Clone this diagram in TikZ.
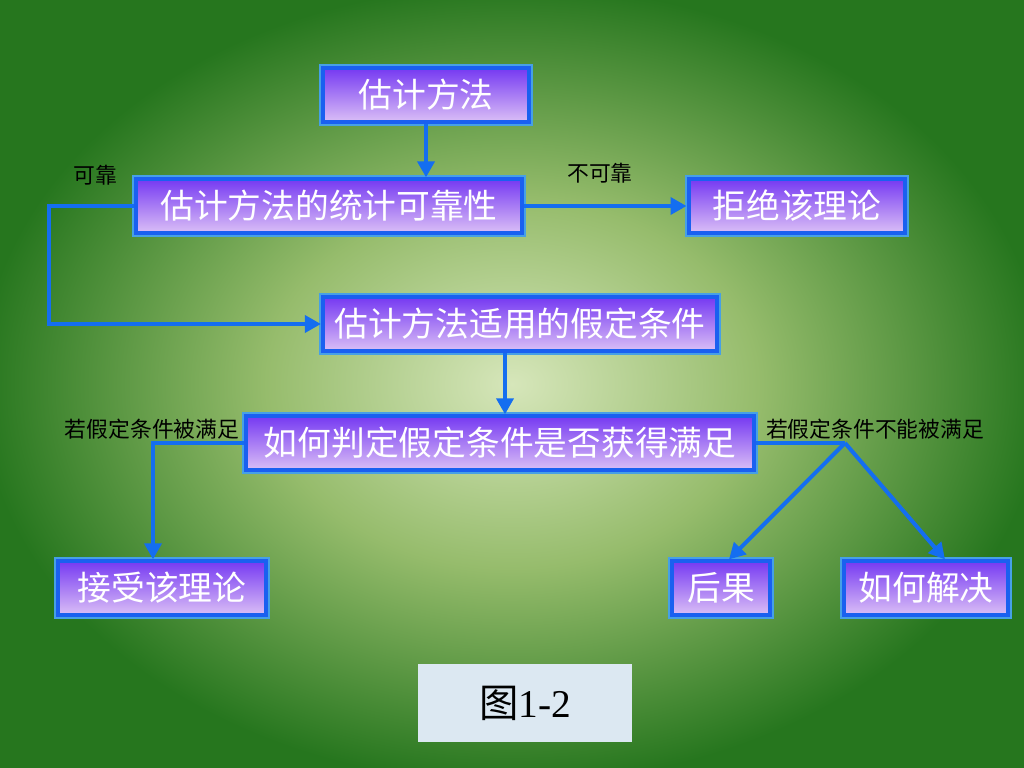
\documentclass[tikz,border=0pt]{standalone}
\usepackage{fontspec}
\setmainfont{Liberation Serif}
\newfontfamily\cjk{Noto Sans CJK SC}
\usetikzlibrary{arrows.meta}

\definecolor{glowc}{RGB}{214,230,186}
\definecolor{glowm}{RGB}{150,188,108}
\definecolor{glowe}{RGB}{38,118,30}
\definecolor{boxtop}{RGB}{118,58,242}
\definecolor{boxbot}{RGB}{218,190,246}
\definecolor{boxrim}{RGB}{26,96,240}
\definecolor{boxhalo}{RGB}{70,160,230}
\definecolor{flowblue}{RGB}{20,110,240}
\definecolor{capfill}{RGB}{220,232,242}

\pgfdeclareradialshading{bgglow}{\pgfpoint{0bp}{0bp}}{color(0bp)=(glowc); color(12bp)=(glowm); color(26bp)=(glowe); color(50bp)=(glowe)}

\newcommand{\boxfont}{\cjk\fontsize{24pt}{28pt}\selectfont}
\newcommand{\notefont}{\cjk\fontsize{15.5pt}{18pt}\selectfont}

\tikzset{
	flowbox/.style = {preaction={draw=boxhalo, line width=0.2cm}, draw=boxrim, line width=0.1cm,
		top color=boxtop, bottom color=boxbot, text=white, font=\boxfont,
		minimum height=1.33cm, inner sep=0pt},
	flowarrow/.style = {draw=flowblue, line width=0.1cm, -{Triangle[length=0.4cm,width=0.42cm]}},
	note/.style = {font=\notefont, text=black, inner sep=0pt}
}

\begin{document}
\begin{tikzpicture}[x=0.025cm, y=-0.025cm]
	\useasboundingbox (0,0) rectangle (1024,768);
	\shade[shading=bgglow] (0,0) rectangle (1024,768);

	\node [flowbox, minimum width=5.15cm] (method) at (426,95) {估计方法};
	\node [flowbox, minimum width=9.65cm] (reliab) at (329,206) {估计方法的统计可靠性};
	\node [flowbox, minimum width=5.42cm] (reject) at (797,206) {拒绝该理论};
	\node [flowbox, minimum width=9.85cm] (assume) at (520,324) {估计方法适用的假定条件};
	\node [flowbox, minimum width=12.7cm] (judge) at (500,443) {如何判定假定条件是否获得满足};
	\node [flowbox, minimum width=5.2cm] (accept) at (162,588) {接受该理论};
	\node [flowbox, minimum width=2.45cm] (result) at (721,588) {后果};
	\node [flowbox, minimum width=4.12cm] (solve) at (926,588) {如何解决};

	\node [note] (yes) at (95,175) {可靠};
	\node [note] (no) at (600,173) {不可靠};
	\node [note] (met) at (152,429) {若假定条件被满足};
	\node [note] (notmet) at (875,429) {若假定条件不能被满足};

	\draw [flowarrow] (method.south) -- (method.south |- reliab.north);
	\draw [flowarrow] (reliab.east) -- (reject.west);
	\draw [flowarrow] (reliab.west) -- ([xshift=-2.125cm]reliab.west) |- (assume.west);
	\draw [flowarrow] ([xshift=-0.375cm]assume.south) -- ([xshift=-0.375cm]assume.south |- judge.north);
	\draw [flowarrow] (judge.west) -| ([xshift=-0.225cm]accept.north);
	\coordinate (split) at (845,443);
	\draw [draw=flowblue, line width=0.1cm] (judge.east) -- (split);
	\draw [flowarrow] (split) -- ([xshift=0.2cm]result.north);
	\draw [flowarrow] (split) -- ([xshift=0.475cm]solve.north);

	\node [fill=capfill, minimum width=5.35cm, minimum height=1.95cm, inner sep=0pt,
		font=\fontsize{28pt}{32pt}\selectfont] (fig) at (525,703) {{\cjk 图}1-2};
\end{tikzpicture}
\end{document}
